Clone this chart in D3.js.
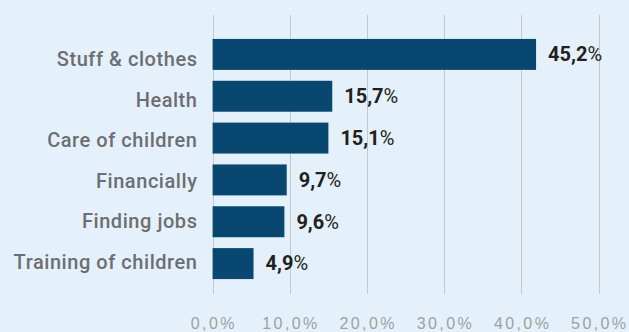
<!DOCTYPE html>
<html><head><meta charset="utf-8">
<script src="https://cdn.jsdelivr.net/npm/d3@7"></script>
<style>
html,body{margin:0;padding:0;background:#e4f1fa;}
svg{display:block;}
</style></head>
<body>
<svg id="chart" width="629" height="332"></svg>
<script>
const categories = ["Stuff & clothes","Health","Care of children","Financially","Finding jobs","Training of children"];
const labelValues = ["45,2","15,7","15,1","9,7","9,6","4,9"];
// bar lengths as drawn in the picture (the top bar is drawn shorter than its label)
const barValues = [41.9, 15.5, 15.0, 9.6, 9.3, 5.3];
const tickValues = [0,10,20,30,40,50];
const tickLabels = ["0,0%","10,0%","20,0%","30,0%","40,0%","50,0%"];

const svg = d3.select("#chart");
const x = d3.scaleLinear().domain([0,50]).range([212.6,598.6]);
const y = d3.scaleBand().domain(categories).range([33.5,284.5]).paddingInner(0.26).paddingOuter(0.13);
const yLabel = d3.scalePoint().domain(categories).range([66,268.5]);

svg.append("rect").attr("width",629).attr("height",332).attr("fill","#e4f1fa");

// gridlines
svg.append("g").selectAll("line").data(tickValues).join("line")
  .attr("x1",d=>Math.round(x(d))+0.5).attr("x2",d=>Math.round(x(d))+0.5)
  .attr("y1",15).attr("y2",294)
  .attr("stroke","#c6c9cc").attr("stroke-width",1);

// tick labels
svg.append("g").selectAll("text").data(tickValues).join("text")
  .attr("x",d=>x(d)+1.2).attr("y",329)
  .attr("text-anchor","middle")
  .attr("font-family","Liberation Sans, Arial, sans-serif")
  .attr("font-size",16).attr("letter-spacing",2.4)
  .attr("fill","#a0a0a0")
  .text((d,i)=>tickLabels[i]);

// bars
svg.append("g").selectAll("rect").data(categories).join("rect")
  .attr("x",x(0)).attr("y",d=>y(d))
  .attr("width",(d,i)=>x(barValues[i])-x(0))
  .attr("height",y.bandwidth())
  .attr("fill","#08476f");

// category labels
svg.append("g").selectAll("text").data(categories).join("text")
  .attr("x",197.5).attr("y",d=>yLabel(d))
  .attr("text-anchor","end")
  .attr("font-family","Roboto, sans-serif").attr("font-weight",500)
  .attr("font-size",20).attr("letter-spacing",0.55)
  .attr("fill","#6d6e71")
  .text(d=>d);

// value labels
const vl = svg.append("g").selectAll("text").data(categories).join("text")
  .attr("x",(d,i)=>x(barValues[i])+12).attr("y",d=>y(d)+y.bandwidth()/2+6.8)
  .attr("font-family","Roboto, sans-serif")
  .attr("font-size",20)
  .attr("fill","#231f20");
vl.append("tspan").attr("font-weight",700).text((d,i)=>labelValues[i]);
vl.append("tspan").attr("font-weight",400).text("%");
</script>
</body></html>
